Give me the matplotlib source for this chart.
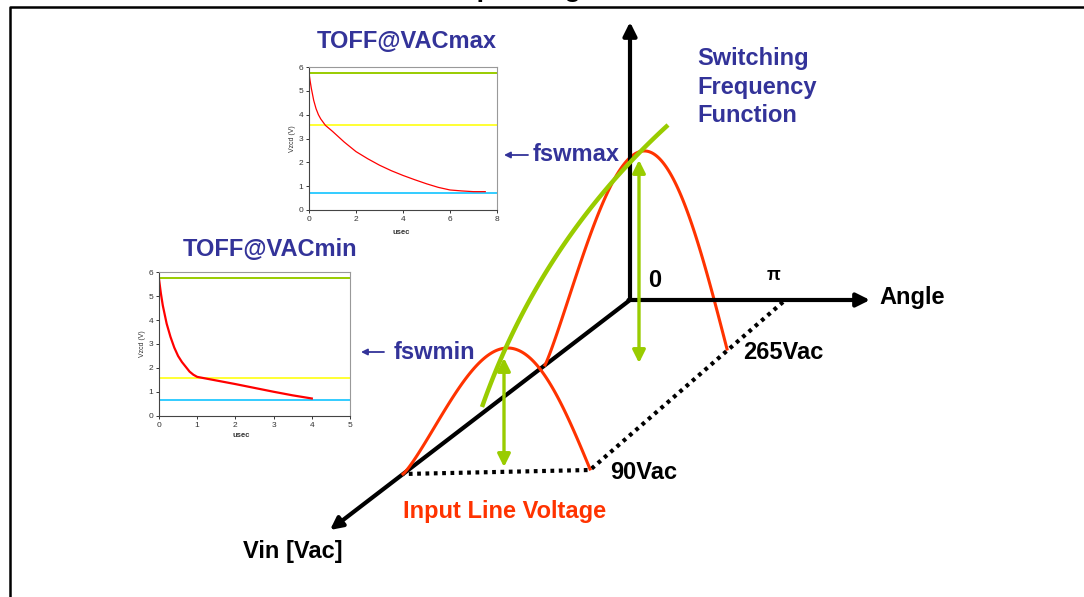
import numpy as np
import matplotlib.pyplot as plt

plt.rcParams['font.family'] = ['Liberation Sans', 'DejaVu Sans']

# ---- inset data: TOFF@VACmax (x in usec, Vzcd in V)
vmax_usec = [0.0, 0.05, 0.1, 0.2, 0.3, 0.4, 0.5, 0.7, 1.0, 1.5, 2.0, 2.5, 3.0,
             3.5, 4.0, 4.5, 5.0, 5.5, 6.0, 6.5, 7.0, 7.5]
vmax_vzcd = [5.75, 5.4, 5.1, 4.6, 4.25, 4.0, 3.82, 3.55, 3.3, 2.85, 2.45, 2.15,
             1.88, 1.65, 1.45, 1.27, 1.1, 0.95, 0.84, 0.8, 0.77, 0.77]
vmax_levels = [5.75, 3.56, 0.73]

# ---- inset data: TOFF@VACmin
vmin_usec = [0.0, 0.05, 0.1, 0.2, 0.3, 0.4, 0.5, 0.6, 0.7, 0.8, 0.9, 1.0, 1.5,
             2.0, 2.5, 3.0, 3.5, 4.0]
vmin_vzcd = [5.7, 5.1, 4.6, 3.85, 3.3, 2.85, 2.5, 2.25, 2.05, 1.85, 1.72, 1.63,
             1.48, 1.33, 1.17, 1.01, 0.86, 0.73]
vmin_levels = [5.75, 1.59, 0.66]

level_colors = ['#99CC00', '#FFFF33', '#33CCFF']

# ---- diagram anchor points (pixel space of the sketch)
origin = (630, 300)
vert_tip = (630, 22)
angle_tip = (870, 300)
vin_tip = (330, 530)
dotted_path = [(783, 302), (590, 470), (403, 474)]
arc_90 = [(403, 474), (507, 348), (590, 469)]      # start, peak, end
arc_265 = [(545, 365), (643, 151), (727, 349)]
fsw_curve = [(482, 407), (540, 242), (668, 125)]   # bezier control points
fswmin_arrow = [(504, 358), (504, 467)]
fswmax_arrow = [(639, 160), (639, 363)]

BLUE = '#333399'
RED = '#FF3300'
GREEN = '#99CC00'


def half_sine(start, peak, end, n=120):
    (sx, sy), (px, py), (ex, ey) = start, peak, end
    t = np.linspace(0, 1, n)
    tp = (px - sx) / (ex - sx)
    k = np.log(0.5) / np.log(tp)
    h = (sy + tp * (ey - sy)) - py
    x = sx + t * (ex - sx)
    y = sy + t * (ey - sy) - h * np.sin(np.pi * t ** k)
    return x, y


def bezier(pts, n=120):
    p0, p1, p2 = [np.array(p, dtype=float) for p in pts]
    t = np.linspace(0, 1, n)[:, None]
    c = (1 - t) ** 2 * p0 + 2 * (1 - t) * t * p1 + t ** 2 * p2
    return c[:, 0], c[:, 1]


W, H = 1084, 597
fig = plt.figure(figsize=(W / 100, H / 100), dpi=100)
ax = fig.add_axes([0, 0, 1, 1])
ax.set_xlim(0, W)
ax.set_ylim(H, 0)
ax.axis('off')

# frame and clipped title (only the descenders show, as in the source)
ax.plot([10, 10, W], [H, 7, 7], color='black', lw=1.8, solid_capstyle='projecting')
ax.text(457, -2.5, 'Operating', fontsize=19, fontweight='bold', ha='left', va='baseline')

# axes of the sketch
ax.annotate('', xy=vin_tip, xytext=origin,
            arrowprops=dict(arrowstyle='-|>', lw=3, color='black', mutation_scale=18,
                            shrinkA=0, shrinkB=0), zorder=2)

dx = [p[0] for p in dotted_path]
dy = [p[1] for p in dotted_path]
ax.plot(dx, dy, color='black', lw=3, linestyle=(0, (0.9, 1.1)), zorder=2)

for arc in (arc_90, arc_265):
    x, y = half_sine(*arc)
    ax.plot(x, y, color=RED, lw=2.2, zorder=3)

ax.annotate('', xy=vert_tip, xytext=origin,
            arrowprops=dict(arrowstyle='-|>', lw=3, color='black', mutation_scale=20,
                            shrinkA=0, shrinkB=0), zorder=4)
ax.annotate('', xy=angle_tip, xytext=(origin[0] - 1.5, origin[1]),
            arrowprops=dict(arrowstyle='-|>', lw=3, color='black', mutation_scale=20,
                            shrinkA=0, shrinkB=0), zorder=4)

gx, gy = bezier(fsw_curve)
ax.plot(gx, gy, color=GREEN, lw=3.2, zorder=5, solid_capstyle='butt')

for a, b in (fswmin_arrow, fswmax_arrow):
    ax.annotate('', xy=a, xytext=b,
                arrowprops=dict(arrowstyle='<|-|>', lw=2.4, color=GREEN, mutation_scale=19,
                                shrinkA=0, shrinkB=0), zorder=6)

# small blue pointer arrows
for tip, tail in (((504, 155), (528, 155)), ((361, 352), (384, 352))):
    ax.annotate('', xy=tip, xytext=tail,
                arrowprops=dict(arrowstyle='-|>', lw=1.3, color=BLUE, mutation_scale=9,
                                shrinkA=0, shrinkB=0))

tkw = dict(fontsize=17, fontweight='bold', va='baseline', ha='left')
ax.text(407, 48.5, 'TOFF@VACmax', color=BLUE, **{**tkw, 'ha': 'center'})
ax.text(270, 256.5, 'TOFF@VACmin', color=BLUE, **{**tkw, 'ha': 'center'})
for i, line in enumerate(['Switching', 'Frequency', 'Function']):
    ax.text(697, 65 + 28.7 * i, line, color=BLUE, **tkw)
ax.text(533, 161, 'fswmax', color=BLUE, **tkw)
ax.text(394, 359, 'fswmin', color=BLUE, **tkw)
ax.text(648, 287, '0', color='black', **tkw)
ax.text(767, 280, 'π', color='black', fontsize=13, fontweight='bold', va='baseline', ha='left')
ax.text(879, 304, 'Angle', color='black', **tkw)
ax.text(743, 359, '265Vac', color='black', **tkw)
ax.text(610, 479, '90Vac', color='black', **tkw)
ax.text(403, 518, 'Input Line Voltage', color=RED, **tkw)
ax.text(243, 558, 'Vin [Vac]', color='black', fontsize=17, fontweight='bold',
        fontstretch='condensed', va='baseline', ha='left')


def inset(rect, xs, ys, levels, xmax, red_lw, xlabel_pos):
    left, top, right, bottom = rect
    a = fig.add_axes([left / W, 1 - bottom / H, (right - left) / W, (bottom - top) / H])
    for lv, c in zip(levels, level_colors):
        a.axhline(lv, color=c, lw=1.4)
    a.plot(xs, ys, color='#FF0000', lw=red_lw)
    a.set_xlim(0, xmax)
    a.set_ylim(0, 6)
    a.set_xticks(range(0, xmax + 1, 2 if xmax > 5 else 1))
    a.set_yticks(range(0, 7))
    a.tick_params(labelsize=6, length=2.5, width=0.7, pad=1.5, colors='#333333')
    for s in ('top', 'right'):
        a.spines[s].set_color('#999999')
        a.spines[s].set_linewidth(0.8)
    for s in ('left', 'bottom'):
        a.spines[s].set_color('#444444')
        a.spines[s].set_linewidth(0.8)
    a.set_ylabel('Vzcd (V)', fontsize=5, labelpad=2, color='#333333')
    a.set_xlabel('usec', fontsize=5.5, fontweight='bold', color='#333333')
    a.xaxis.set_label_coords(*xlabel_pos)
    return a


inset((309, 67, 497, 210), vmax_usec, vmax_vzcd, vmax_levels, 8, 0.9, (0.49, -0.13))
inset((159, 272, 350, 416), vmin_usec, vmin_vzcd, vmin_levels, 5, 1.6, (0.43, -0.11))

fig.savefig('out.png', dpi=100)
